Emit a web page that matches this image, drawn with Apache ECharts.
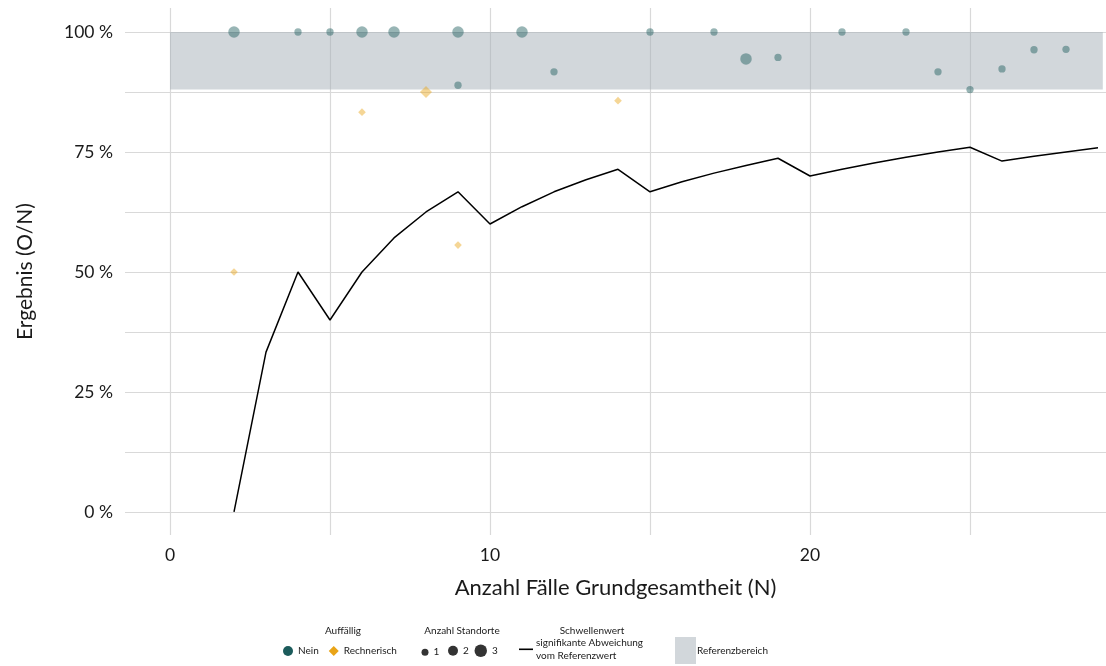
<!DOCTYPE html>
<html>
<head>
<meta charset="utf-8">
<script src="https://cdn.jsdelivr.net/npm/echarts@6/dist/echarts.min.js"></script>
<style>
  html, body { margin: 0; padding: 0; background: #fff; }
  #main { width: 1106px; height: 666px; }
</style>
</head>
<body>
<div id="main"></div>
<script>
// Schwellenwert je Anzahl Fälle (N)
var schwelleN = [2, 3, 4, 5, 6, 7, 8, 9, 10, 11, 12, 13, 14, 15, 16, 17, 18, 19, 20, 21, 22, 23, 24, 25, 26, 27, 28, 29];
var schwelleWert = [0, 33.3, 50, 40, 50, 57.1, 62.5, 66.7, 60, 63.6, 66.7, 69.2, 71.4, 66.7, 68.8, 70.6, 72.2, 73.7, 70, 71.4, 72.7, 73.9, 75, 76, 73.1, 74.1, 75, 75.9];

// Standorte, nicht auffällig: N, Ergebnis in %, Anzahl Standorte
var neinN = [2, 4, 5, 6, 7, 9, 9, 11, 12, 15, 17, 18, 19, 21, 23, 24, 25, 26, 27, 28];
var neinWert = [100, 100, 100, 100, 100, 100, 88.9, 100, 91.7, 100, 100, 94.4, 94.7, 100, 100, 91.7, 88, 92.3, 96.3, 96.4];
var neinAnzahl = [2, 1, 1, 2, 2, 2, 1, 2, 1, 1, 1, 2, 1, 1, 1, 1, 1, 1, 1, 1];

// Standorte, rechnerisch auffällig
var rechN = [2, 6, 8, 9, 14];
var rechWert = [50, 83.3, 87.5, 55.6, 85.7];
var rechAnzahl = [1, 1, 2, 1, 1];

// Referenzbereich
var refUnten = 88;
var refOben = 100;
var refVon = 0;
var refBis = 29.15;

var yTicks = [0, 12.5, 25, 37.5, 50, 62.5, 75, 87.5, 100];
var yLabels = [0, 25, 50, 75, 100];
var xTicks = [0, 5, 10, 15, 20, 25];
var xLabels = [0, 10, 20];

var FONT = 'Lato';
var TXT = '#1a1a1a';
var TEAL = '#1b5b5b';
var GELB = '#e9a417';
var sizeOf = function (n) { return n === 1 ? 7.3 : n === 2 ? 11.5 : 13.5; };

function zip(xs, ys, ns) {
  return xs.map(function (x, i) { return [x, ys[i], ns[i]]; });
}

var legendText = { fontSize: 10, fontFamily: FONT, color: TXT };

var chart = echarts.init(document.getElementById('main'));
chart.setOption({
  backgroundColor: '#fff',
  animation: false,
  grid: { left: 125, right: 0, top: 8, bottom: 131, containLabel: false },
  xAxis: {
    type: 'value', min: -1.40625, max: 29.25,
    axisLine: { show: false },
    axisTick: { show: false, customValues: xTicks },
    axisLabel: { customValues: xLabels, color: TXT, fontSize: 17.5, fontFamily: FONT, margin: 11 },
    splitLine: { show: true, lineStyle: { color: '#d9d9d9', width: 1.2 } },
    name: 'Anzahl Fälle Grundgesamtheit (N)', nameLocation: 'middle', nameGap: 42,
    nameTextStyle: { color: TXT, fontSize: 22, fontFamily: FONT }
  },
  yAxis: {
    type: 'value', min: -4.8, max: 105,
    axisLine: { show: false },
    axisTick: { show: false, customValues: yTicks },
    axisLabel: { customValues: yLabels, color: TXT, fontSize: 17.5, fontFamily: FONT, margin: 12,
      formatter: function (v) { return v + ' %'; } },
    splitLine: { show: true, lineStyle: { color: '#d9d9d9', width: 1.2 } },
    name: 'Ergebnis (O/N)', nameLocation: 'middle', nameGap: 89, nameRotate: 90,
    nameTextStyle: { color: TXT, fontSize: 21, fontFamily: FONT }
  },
  legend: [
    { data: [{ name: 'Nein', icon: 'circle', itemStyle: { color: TEAL, opacity: 1 } },
             { name: 'Rechnerisch', icon: 'diamond', itemStyle: { color: GELB, opacity: 1 } }],
      left: 283, top: 646, padding: 0, itemWidth: 10, itemHeight: 10, itemGap: 10,
      textStyle: legendText },
    { data: [{ name: '1', icon: 'circle' }], left: 421.5, top: 647.2, padding: 0, itemWidth: 7, itemHeight: 7.5,
      textStyle: legendText },
    { data: [{ name: '2', icon: 'circle' }], left: 448, top: 645.8, padding: 0, itemWidth: 10, itemHeight: 10.5,
      textStyle: legendText },
    { data: [{ name: '3', icon: 'circle' }], left: 474.5, top: 644.5, padding: 0, itemWidth: 12.5, itemHeight: 13,
      textStyle: legendText },
    { data: [{ name: 'signifikante Abweichung\nvom Referenzwert', icon: 'rect' }],
      left: 519, top: 632.8, padding: 0, itemWidth: 14, itemHeight: 1.6, itemStyle: { color: '#000' },
      textStyle: { fontSize: 10, fontFamily: FONT, color: TXT, lineHeight: 13, padding: [7, 0, 0, -2] } },
    { data: [{ name: 'Referenzbereich', icon: 'rect' }], left: 675, top: 637, padding: 0, itemWidth: 21, itemHeight: 27,
      textStyle: { fontSize: 10, fontFamily: FONT, color: TXT, padding: [0, 0, 0, -4] } }
  ],
  graphic: [
    { type: 'text', x: 343, y: 631, style: { text: 'Auffällig', font: '10px ' + FONT, fill: TXT, textAlign: 'center', textVerticalAlign: 'middle' } },
    { type: 'text', x: 462, y: 631, style: { text: 'Anzahl Standorte', font: '10px ' + FONT, fill: TXT, textAlign: 'center', textVerticalAlign: 'middle' } },
    { type: 'text', x: 592, y: 631, style: { text: 'Schwellenwert', font: '10px ' + FONT, fill: TXT, textAlign: 'center', textVerticalAlign: 'middle' } }
  ],
  series: [
    {
      name: 'Referenzbereich', type: 'custom', z: 1,
      itemStyle: { color: 'rgba(165,175,183,0.5)' },
      data: [[refVon, refUnten, refBis, refOben]],
      renderItem: function (params, api) {
        var p0 = api.coord([api.value(0), api.value(3)]);
        var p1 = api.coord([api.value(2), api.value(1)]);
        return { type: 'rect', shape: { x: p0[0], y: p0[1], width: p1[0] - p0[0], height: p1[1] - p0[1] },
          style: { fill: 'rgba(165,175,183,0.5)' } };
      }
    },
    {
      name: 'signifikante Abweichung\nvom Referenzwert', type: 'line', z: 3,
      data: schwelleN.map(function (n, i) { return [n, schwelleWert[i]]; }),
      showSymbol: false, symbol: 'none',
      lineStyle: { color: '#000', width: 1.5 }, itemStyle: { color: '#000' }
    },
    {
      name: 'Nein', type: 'scatter', z: 4, symbol: 'circle',
      data: zip(neinN, neinWert, neinAnzahl),
      symbolSize: function (v) { return sizeOf(v[2]); },
      itemStyle: { color: TEAL, opacity: 0.45 }
    },
    {
      name: 'Rechnerisch', type: 'scatter', z: 4, symbol: 'diamond',
      data: zip(rechN, rechWert, rechAnzahl),
      symbolSize: function (v) { return sizeOf(v[2]) * 1.05; },
      itemStyle: { color: GELB, opacity: 0.45 }
    },
    { name: '1', type: 'scatter', data: [], itemStyle: { color: '#000' } },
    { name: '2', type: 'scatter', data: [], itemStyle: { color: '#000' } },
    { name: '3', type: 'scatter', data: [], itemStyle: { color: '#000' } }
  ]
});
</script>
</body>
</html>
